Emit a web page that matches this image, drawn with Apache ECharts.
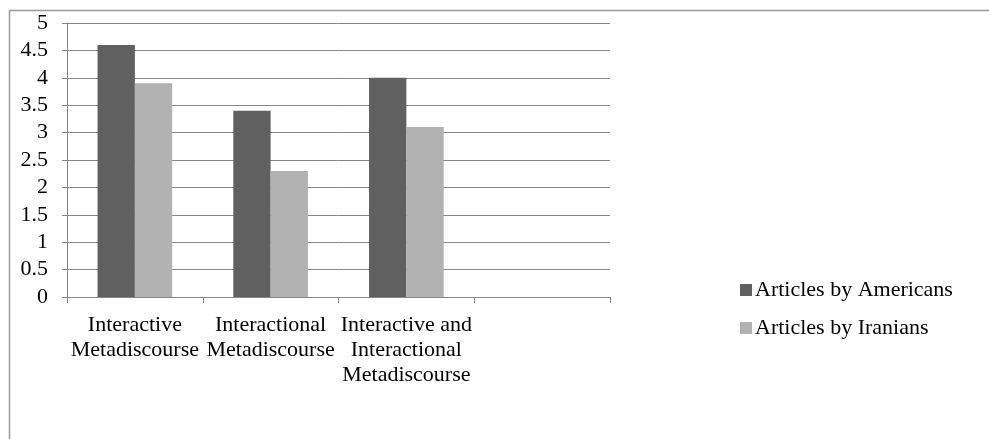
<!DOCTYPE html>
<html>
<head>
<meta charset="utf-8">
<script src="https://cdn.jsdelivr.net/npm/echarts@6/dist/echarts.min.js"></script>
<style>
html,body{margin:0;padding:0;background:#fff;}
#chart{width:989px;height:439px;}
</style>
</head>
<body>
<div id="chart"></div>
<script>
var categories = ['Interactive\nMetadiscourse', 'Interactional\nMetadiscourse', 'Interactive and\nInteractional\nMetadiscourse', ''];
var americans = [4.6, 3.4, 4.0, null];
var iranians = [3.9, 2.3, 3.1, null];
var seriesNames = ['Articles by Americans', 'Articles by Iranians'];

var chart = echarts.init(document.getElementById('chart'));
var fontFam = '"Liberation Serif", "Times New Roman", serif';

var option = {
    animation: false,
    textStyle: {fontFamily: fontFam},
    grid: {left: 67, top: 23, width: 543, height: 274, containLabel: false},
    legend: {
        orient: 'vertical',
        left: 735,
        top: 274,
        itemWidth: 12,
        itemHeight: 12,
        itemGap: 16,
        icon: 'rect',
        textStyle: {fontFamily: fontFam, fontSize: 22, color: '#000', padding: [0, 0, 0, -2]},
        data: seriesNames
    },
    xAxis: {
        type: 'category',
        data: categories,
        axisLine: {lineStyle: {color: '#868686'}},
        axisTick: {show: true, alignWithLabel: false, length: 6, lineStyle: {color: '#868686'}},
        axisLabel: {
            interval: 0,
            margin: 16,
            fontFamily: fontFam,
            fontSize: 22,
            color: '#000',
            lineHeight: 25
        }
    },
    yAxis: {
        type: 'value',
        min: 0,
        max: 5,
        interval: 0.5,
        axisLine: {show: true, lineStyle: {color: '#868686'}},
        axisTick: {show: true, length: 5, lineStyle: {color: '#868686'}},
        splitLine: {lineStyle: {color: '#868686'}},
        axisLabel: {
            margin: 19,
            fontFamily: fontFam,
            fontSize: 22,
            color: '#000'
        }
    },
    series: [
        {
            name: seriesNames[0],
            type: 'bar',
            data: americans,
            barGap: '0%',
            barCategoryGap: '45%',
            itemStyle: {color: '#606060'}
        },
        {
            name: seriesNames[1],
            type: 'bar',
            data: iranians,
            itemStyle: {color: '#b2b2b2'}
        }
    ],
    graphic: [
        {type: 'line', shape: {x1: 9.5, y1: 10.5, x2: 989, y2: 10.5}, style: {stroke: '#999', lineWidth: 1.5}},
        {type: 'line', shape: {x1: 9.5, y1: 10.5, x2: 9.5, y2: 439}, style: {stroke: '#999', lineWidth: 1.5}}
    ]
};

chart.setOption(option);
</script>
</body>
</html>
